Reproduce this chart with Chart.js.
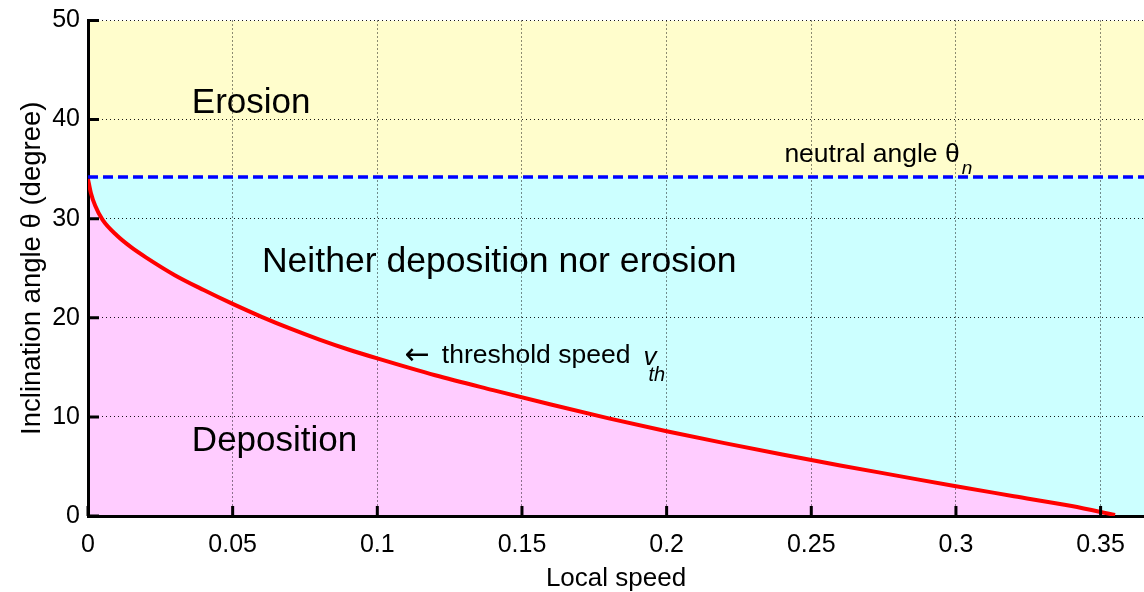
<!DOCTYPE html>
<html>
<head>
<meta charset="utf-8">
<script src="https://cdn.jsdelivr.net/npm/chart.js@4.4.1/dist/chart.umd.min.js"></script>
<style>
  html, body { margin: 0; padding: 0; background: #fff; }
  #wrap { width: 1144px; height: 592px; }
</style>
</head>
<body>
<div id="wrap"><canvas id="myChart" width="1144" height="592"></canvas></div>
<script>
// threshold speed curve
var speed = [0, 0.001, 0.0025, 0.005, 0.01, 0.015, 0.02, 0.03, 0.04, 0.05, 0.06, 0.07, 0.08, 0.09, 0.1,
             0.12, 0.14, 0.16, 0.18, 0.2, 0.22, 0.24, 0.26, 0.28, 0.3, 0.32, 0.34, 0.355];
var angle = [34.0, 32.6, 31.3, 29.9, 28.3, 27.1, 26.1, 24.3, 22.8, 21.4, 20.1, 18.9, 17.8, 16.8, 15.9,
             14.2, 12.7, 11.25, 9.85, 8.55, 7.35, 6.2, 5.1, 4.05, 3.0, 2.0, 1.0, 0.1];

// neutral angle and plot limits
var neutralAngle = 34.2;
var xRange = [0, 0.365];
var yRange = [0, 50];

// ticks
var xTicks = [0, 0.05, 0.1, 0.15, 0.2, 0.25, 0.3, 0.35];
var xTickLabels = ['0', '0.05', '0.1', '0.15', '0.2', '0.25', '0.3', '0.35'];
var yTicks = [0, 10, 20, 30, 40, 50];
var yTickLabels = ['0', '10', '20', '30', '40', '50'];

var FONT = '"Liberation Sans", Arial, Helvetica, sans-serif';

var curvePoints = [];
for (var i = 0; i < speed.length; i++) {
    curvePoints.push({x: speed[i], y: angle[i]});
}

// text labels and ticks pointing inward, like the original figure
var labelsPlugin = {
    id: 'labels',
    afterDatasetsDraw: function(chart) {
        var ctx = chart.ctx;
        var xs = chart.scales.x;
        var ys = chart.scales.y;
        var area = chart.chartArea;

        ctx.save();
        ctx.strokeStyle = '#000';
        ctx.lineWidth = 3;
        ctx.beginPath();
        for (var i = 0; i < xTicks.length; i++) {
            var px = xs.getPixelForValue(xTicks[i]);
            ctx.moveTo(px, area.bottom);
            ctx.lineTo(px, area.bottom - 10);
        }
        for (var j = 0; j < yTicks.length; j++) {
            var py = ys.getPixelForValue(yTicks[j]);
            ctx.moveTo(area.left, py);
            ctx.lineTo(area.left + 11, py);
        }
        ctx.stroke();

        ctx.fillStyle = '#000';
        ctx.textBaseline = 'middle';
        ctx.textAlign = 'left';

        ctx.font = '35px ' + FONT;
        ctx.fillText('Erosion', xs.getPixelForValue(0.0359), ys.getPixelForValue(41.6));
        ctx.font = '35.6px ' + FONT;
        ctx.fillText('Neither deposition nor erosion', xs.getPixelForValue(0.0601), ys.getPixelForValue(25.6));
        ctx.font = '35px ' + FONT;
        ctx.fillText('Deposition', xs.getPixelForValue(0.0359), ys.getPixelForValue(7.5));

        // neutral angle θn
        ctx.font = '26.5px ' + FONT;
        var nx = xs.getPixelForValue(0.2407);
        var ny = ys.getPixelForValue(36.45);
        var s1 = 'neutral angle \u03b8';
        ctx.fillText(s1, nx, ny);
        var w1 = ctx.measureText(s1).width;
        ctx.font = 'italic 19px ' + FONT;
        ctx.fillText('n', nx + w1 + 2, ny + 14);

        // threshold speed v_th
        var tx = xs.getPixelForValue(0.1095);
        var ty = ys.getPixelForValue(16.2);
        ctx.font = '30px "DejaVu Sans", ' + FONT;
        ctx.fillText('\u2190', tx, ty + 1);
        ctx.font = '26.5px ' + FONT;
        var s2 = 'threshold speed';
        ctx.fillText(s2, tx + 37, ty);
        var w2 = ctx.measureText(s2).width + 37;
        ctx.font = 'italic 26px ' + FONT;
        ctx.fillText('v', tx + w2 + 13, ty + 2);
        ctx.font = 'italic 20px ' + FONT;
        ctx.fillText('th', tx + w2 + 18, ty + 20);
        ctx.restore();
    }
};

var ctx = document.getElementById('myChart').getContext('2d');
var chart = new Chart(ctx, {
    type: 'line',
    data: {
        datasets: [
            {
                label: 'threshold speed',
                data: curvePoints,
                borderColor: '#ff0000',
                borderWidth: 4,
                backgroundColor: 'rgb(255, 204, 255)',
                fill: 'origin',
                pointRadius: 0,
                cubicInterpolationMode: 'monotone'
            },
            {
                label: 'neutral angle',
                data: [{x: xRange[0], y: neutralAngle}, {x: xRange[1], y: neutralAngle}],
                borderColor: '#0000ff',
                borderWidth: 3.5,
                borderDash: [10, 5],
                backgroundColor: 'rgb(204, 255, 255)',
                fill: 'origin',
                pointRadius: 0
            },
            {
                label: 'erosion',
                data: [{x: xRange[0], y: yRange[1]}, {x: xRange[1], y: yRange[1]}],
                borderWidth: 0,
                borderColor: 'rgba(0,0,0,0)',
                backgroundColor: 'rgb(255, 253, 204)',
                fill: 'origin',
                pointRadius: 0
            }
        ]
    },
    options: {
        responsive: false,
        animation: false,
        layout: { padding: { top: 18, right: 0, left: 0, bottom: 0 } },
        plugins: {
            legend: { display: false },
            tooltip: { enabled: false },
            filler: { drawTime: 'beforeDraw' }
        },
        scales: {
            x: {
                type: 'linear',
                min: xRange[0],
                max: xRange[1],
                afterBuildTicks: function(scale) {
                    scale.ticks = xTicks.map(function(v) { return {value: v}; });
                },
                afterFit: function(scale) { scale.height = 76; },
                ticks: {
                    padding: 14,
                    color: '#000',
                    font: { family: FONT, size: 25 },
                    maxRotation: 0,
                    callback: function(value, index) { return xTickLabels[index]; }
                },
                grid: { color: 'rgba(0,0,0,0.9)', lineWidth: 1, drawTicks: false },
                border: { display: true, color: '#000', width: 3, dash: [1, 3] },
                title: {
                    display: true,
                    text: 'Local speed',
                    color: '#000',
                    font: { family: FONT, size: 26, lineHeight: 1 },
                    padding: { top: 0, bottom: 0 }
                }
            },
            y: {
                type: 'linear',
                min: yRange[0],
                max: yRange[1],
                afterBuildTicks: function(scale) {
                    scale.ticks = yTicks.map(function(v) { return {value: v}; });
                },
                afterFit: function(scale) { scale.width = 88; },
                ticks: {
                    padding: 8,
                    color: '#000',
                    font: { family: FONT, size: 25, lineHeight: 1 },
                    callback: function(value, index) { return yTickLabels[index]; }
                },
                grid: { color: 'rgba(0,0,0,0.9)', lineWidth: 1, drawTicks: false },
                border: { display: true, color: '#000', width: 3, dash: [1, 3] },
                title: {
                    display: true,
                    text: 'Inclination angle \u03b8 (degree)',
                    color: '#000',
                    font: { family: FONT, size: 27.5, lineHeight: 1 },
                    padding: { top: 19, bottom: 0 }
                }
            }
        }
    },
    plugins: [labelsPlugin]
});
</script>
</body>
</html>
